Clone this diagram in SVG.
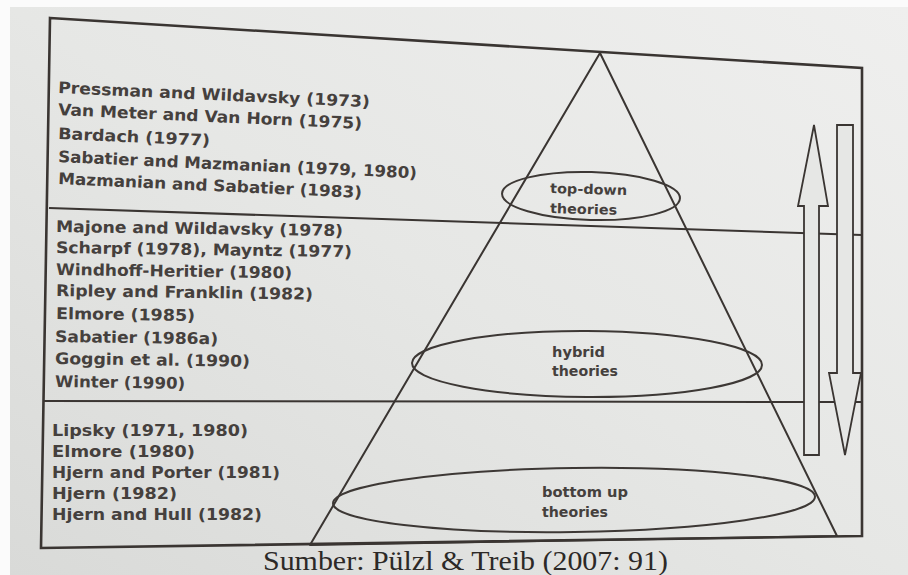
<svg xmlns="http://www.w3.org/2000/svg" width="908" height="575" viewBox="0 0 908 575">
  <defs>
    <linearGradient id="paper" x1="1" y1="0" x2="0" y2="1">
      <stop offset="0" stop-color="#efefee"/>
      <stop offset="0.5" stop-color="#e6e7e5"/>
      <stop offset="1" stop-color="#d9dad8"/>
    </linearGradient>
    <style>
      .ln { fill: none; stroke: #3a3532; stroke-width: 2; stroke-linejoin: round; }
      .frame { fill: none; stroke: #3a3532; stroke-width: 2.6; stroke-linejoin: miter; }
      .ell { fill: none; stroke: #3d3835; stroke-width: 2; }
      .arr { fill: #e6e7e5; stroke: #3a3532; stroke-width: 1.8; stroke-linejoin: miter; }
      .ref { font-family: "DejaVu Sans", Verdana, sans-serif; font-weight: bold; font-size: 16px; fill: #45403d; }
      .lab { font-family: "DejaVu Sans", Verdana, sans-serif; font-weight: bold; font-size: 13.5px; fill: #45403d; }
      .cap { font-family: "Liberation Serif", "Times New Roman", serif; font-size: 28px; fill: #2c2927; }
    </style>
  </defs>

  <rect x="0" y="0" width="908" height="575" fill="#fbfbfb"/>
  <rect x="10" y="7" width="898" height="568" fill="url(#paper)"/>

  <g id="frame">
    <polygon class="frame" points="50,18 862,68 862,536 41,548"/>
    <line class="ln" x1="49" y1="208" x2="862" y2="235"/>
    <line class="ln" x1="43" y1="401" x2="862" y2="402"/>
  </g>

  <g id="pyramid">
    <polygon class="ln" points="600,53 310,545 837,536"/>
  </g>

  <g id="top-down">
    <ellipse class="ell" cx="591" cy="196" rx="89" ry="24" transform="rotate(1.5 591 196)"/>
    <text class="lab" x="550" y="193" textLength="77" lengthAdjust="spacingAndGlyphs" transform="rotate(1.5 550 193)">top-down</text>
    <text class="lab" x="550" y="213" textLength="67" lengthAdjust="spacingAndGlyphs" transform="rotate(1.5 550 213)">theories</text>
  </g>

  <g id="hybrid">
    <ellipse class="ell" cx="587" cy="364" rx="175" ry="33" transform="rotate(0.3 587 364)"/>
    <text class="lab" x="552" y="357" textLength="53" lengthAdjust="spacingAndGlyphs">hybrid</text>
    <text class="lab" x="552" y="376" textLength="66" lengthAdjust="spacingAndGlyphs">theories</text>
  </g>

  <g id="bottom-up">
    <ellipse class="ell" cx="574" cy="500" rx="241" ry="32" transform="rotate(-0.8 574 500)"/>
    <text class="lab" x="542" y="497" textLength="86" lengthAdjust="spacingAndGlyphs">bottom up</text>
    <text class="lab" x="542" y="517" textLength="66" lengthAdjust="spacingAndGlyphs">theories</text>
  </g>

  <g id="top-down-authors">
    <text class="ref" x="58" y="93" textLength="312" lengthAdjust="spacingAndGlyphs" transform="rotate(2.6 58 93)">Pressman and Wildavsky (1973)</text>
    <text class="ref" x="58" y="115" textLength="304" lengthAdjust="spacingAndGlyphs" transform="rotate(2.6 58 115)">Van Meter and Van Horn (1975)</text>
    <text class="ref" x="58" y="139" textLength="152" lengthAdjust="spacingAndGlyphs" transform="rotate(2.6 58 139)">Bardach (1977)</text>
    <text class="ref" x="58" y="162" textLength="359" lengthAdjust="spacingAndGlyphs" transform="rotate(2.6 58 162)">Sabatier and Mazmanian (1979, 1980)</text>
    <text class="ref" x="58" y="184" textLength="304" lengthAdjust="spacingAndGlyphs" transform="rotate(2.6 58 184)">Mazmanian and Sabatier (1983)</text>
  </g>

  <g id="hybrid-authors">
    <text class="ref" x="56" y="232" textLength="287" lengthAdjust="spacingAndGlyphs" transform="rotate(0.8 56 232)">Majone and Wildavsky (1978)</text>
    <text class="ref" x="56" y="253" textLength="296" lengthAdjust="spacingAndGlyphs" transform="rotate(0.8 56 253)">Scharpf (1978), Mayntz (1977)</text>
    <text class="ref" x="56" y="275" textLength="236" lengthAdjust="spacingAndGlyphs" transform="rotate(0.8 56 275)">Windhoff-Heritier (1980)</text>
    <text class="ref" x="56" y="296" textLength="257" lengthAdjust="spacingAndGlyphs" transform="rotate(0.8 56 296)">Ripley and Franklin (1982)</text>
    <text class="ref" x="56" y="319" textLength="139" lengthAdjust="spacingAndGlyphs" transform="rotate(0.8 56 319)">Elmore (1985)</text>
    <text class="ref" x="55" y="342" textLength="163" lengthAdjust="spacingAndGlyphs" transform="rotate(0.8 55 342)">Sabatier (1986a)</text>
    <text class="ref" x="55" y="364" textLength="195" lengthAdjust="spacingAndGlyphs" transform="rotate(0.8 55 364)">Goggin et al. (1990)</text>
    <text class="ref" x="55" y="387" textLength="130" lengthAdjust="spacingAndGlyphs" transform="rotate(0.8 55 387)">Winter (1990)</text>
  </g>

  <g id="bottom-up-authors">
    <text class="ref" x="52" y="436" textLength="196" lengthAdjust="spacingAndGlyphs">Lipsky (1971, 1980)</text>
    <text class="ref" x="52" y="457" textLength="143" lengthAdjust="spacingAndGlyphs">Elmore (1980)</text>
    <text class="ref" x="52" y="478" textLength="228" lengthAdjust="spacingAndGlyphs">Hjern and Porter (1981)</text>
    <text class="ref" x="52" y="499" textLength="125" lengthAdjust="spacingAndGlyphs">Hjern (1982)</text>
    <text class="ref" x="52" y="520" textLength="210" lengthAdjust="spacingAndGlyphs">Hjern and Hull (1982)</text>
  </g>

  <g id="connectors">
    <polygon id="arrow-up" class="arr" points="814,125 828,206 819,206 819,455 804,455 804,206 798,206"/>
    <polygon id="arrow-down" class="arr" points="837,125 853,125 853,373 861,373 845,455 829,373 837,373"/>
  </g>

  <text id="caption" class="cap" x="263" y="570" textLength="405" lengthAdjust="spacingAndGlyphs">Sumber: Pülzl &amp; Treib (2007: 91)</text>
</svg>
